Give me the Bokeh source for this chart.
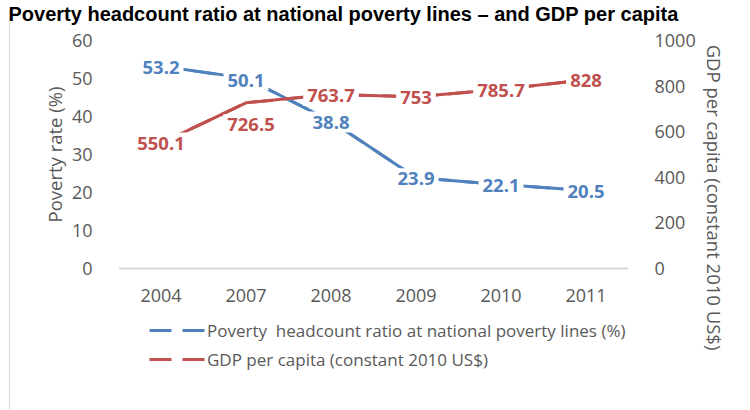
from bokeh.plotting import figure
from bokeh.models import (Range1d, LinearAxis, FixedTicker, ColumnDataSource,
                          Legend, LegendItem, Title)
from bokeh.core.properties import value
from bokeh.embed import file_html
from bokeh.resources import INLINE

# ---------------- data ----------------
years = ["2004", "2007", "2008", "2009", "2010", "2011"]
poverty = [53.2, 50.1, 38.8, 23.9, 22.1, 20.5]
gdp = [550.1, 726.5, 763.7, 753.0, 785.7, 828.0]
poverty_labels = ["53.2", "50.1", "38.8", "23.9", "22.1", "20.5"]
gdp_labels = ["550.1", "726.5", "763.7", "753", "785.7", "828"]
poverty_ticks = [0, 10, 20, 30, 40, 50, 60]
gdp_ticks = [0, 200, 400, 600, 800, 1000]

title_text = "Poverty headcount ratio at national poverty lines \u2013 and GDP per capita"
series_names = ["Poverty  headcount ratio at national poverty lines (%)",
                "GDP per capita (constant 2010 US$)"]
left_title = "Poverty rate (%)"
right_title = "GDP per capita (constant 2010 US$)"

# label nudges (pixels, style only)
pov_dx = [0, 0, 0, 0, 0, 0]
pov_dy = [1, 2, 1, 1, 1, 1]
gdp_dx = [0, 5, 0, 0, 0, 0]
gdp_dy = [0, 22, 1, 1, 1, 1]

# ---------------- style / geometry ----------------
BLUE = "#4f81bd"
RED = "#c0504d"
GREY = "#595959"
AXIS = "#d9d9d9"
FONT = "Open Sans"

W, H = 750, 410
FL, FR = 118, 628               # frame left / right
FT, FBOT = 24, 370              # frame top / bottom (frame also hosts the legend)
Y_TOP, Y_ZERO = 40, 268         # pixel rows of the top tick and of zero

pov_ppu = (Y_ZERO - Y_TOP) / poverty_ticks[-1]
gdp_ppu = (Y_ZERO - Y_TOP) / gdp_ticks[-1]
pov_range = Range1d(-(FBOT - Y_ZERO) / pov_ppu, poverty_ticks[-1] + (Y_TOP - FT) / pov_ppu)
gdp_range = Range1d(-(FBOT - Y_ZERO) / gdp_ppu, gdp_ticks[-1] + (Y_TOP - FT) / gdp_ppu)

p = figure(width=W, height=H, x_range=years, y_range=pov_range,
           output_backend="svg", toolbar_location=None,
           min_border_left=FL, min_border_right=W - FR,
           min_border_top=FT, min_border_bottom=H - FBOT)
p.outline_line_color = None
p.xgrid.visible = False
p.ygrid.visible = False
p.background_fill_color = "white"
p.border_fill_color = None
# thin grey chart-area border on the left (as in the reference)
p.styles = {"background-image": "linear-gradient(#d9d9d9, #d9d9d9)",
            "background-size": "1px 100%",
            "background-position": "9px 10px",
            "background-repeat": "no-repeat"}
p.extra_y_ranges = {"gdp": gdp_range}

# title (top)
p.title.text = title_text
p.title.align = "left"
p.title.offset = 8 - FL
p.title.standoff = 0
p.title.text_font = "Liberation Sans"
p.title.text_font_style = "bold"
p.title.text_font_size = "20px"
p.title.text_color = "black"

# x axis drawn at value 0 inside the frame
xa = p.xaxis[0]
xa.fixed_location = 0
xa.axis_line_color = AXIS
xa.axis_line_width = 2
xa.major_tick_line_color = None
xa.minor_tick_line_color = None
xa.major_label_text_font = FONT
xa.major_label_text_font_size = "18px"
xa.major_label_text_color = GREY
xa.major_label_standoff = 14

ya = p.yaxis[0]
ya.ticker = FixedTicker(ticks=poverty_ticks)
ya.axis_line_color = None
ya.major_tick_line_color = None
ya.minor_tick_line_color = None
ya.major_label_text_font = FONT
ya.major_label_text_font_size = "18px"
ya.major_label_text_color = GREY
ya.major_label_standoff = 20

# left axis title, positioned like the reference (not centred on the frame)
p.add_layout(Title(text=left_title, align="right", offset=62, standoff=3,
                   text_font=FONT, text_font_size="18.5px", text_font_style="normal",
                   text_color=GREY), "left")

ra = LinearAxis(y_range_name="gdp", ticker=FixedTicker(ticks=gdp_ticks))
ra.axis_line_color = None
ra.major_tick_line_color = None
ra.minor_tick_line_color = None
ra.major_label_text_font = FONT
ra.major_label_text_font_size = "18px"
ra.major_label_text_color = GREY
ra.major_label_standoff = 20
ra.axis_label = right_title
ra.axis_label_text_font = FONT
ra.axis_label_text_font_size = "18.5px"
ra.axis_label_text_font_style = "normal"
ra.axis_label_text_color = GREY
ra.axis_label_standoff = 3
try:
    ra.axis_label_orientation = "vertical"
except Exception:
    pass
p.add_layout(ra, "right")

src = ColumnDataSource(dict(year=years, poverty=poverty, gdp=gdp,
                            pov_lab=poverty_labels, gdp_lab=gdp_labels,
                            pov_dx=pov_dx, pov_dy=pov_dy, gdp_dx=gdp_dx, gdp_dy=gdp_dy))

p.line("year", "poverty", source=src, line_color=BLUE, line_width=3)
p.line("year", "gdp", source=src, y_range_name="gdp", line_color=RED, line_width=3)
# dashed twins of the same lines (hidden under the solid ones) give the dashed legend samples
lg1 = p.line("year", "poverty", source=src, line_color=BLUE, line_width=3, line_dash="22 11")
lg2 = p.line("year", "gdp", source=src, y_range_name="gdp", line_color=RED, line_width=3,
             line_dash="22 11")

p.text(x="year", y="poverty", text="pov_lab", source=src, x_offset="pov_dx", y_offset="pov_dy",
       text_font=value(FONT), text_font_size="18.5px", text_font_style="bold",
       text_color=BLUE, text_align="center", text_baseline="middle",
       background_fill_color="white", padding=4)
p.text(x="year", y="gdp", text="gdp_lab", source=src, y_range_name="gdp",
       x_offset="gdp_dx", y_offset="gdp_dy",
       text_font=value(FONT), text_font_size="18.5px", text_font_style="bold",
       text_color=RED, text_align="center", text_baseline="middle",
       background_fill_color="white", padding=4)

legend = Legend(items=[LegendItem(label=series_names[0], renderers=[lg1]),
                       LegendItem(label=series_names[1], renderers=[lg2])],
                location=(31, -1), orientation="vertical",
                glyph_width=57, glyph_height=24, label_height=24, spacing=5,
                padding=0, margin=0, border_line_color=None, background_fill_alpha=0,
                label_standoff=1, label_text_font=FONT, label_text_font_size="17px",
                label_text_color=GREY)
p.add_layout(legend)

open("out.html", "w").write(file_html(p, INLINE))
